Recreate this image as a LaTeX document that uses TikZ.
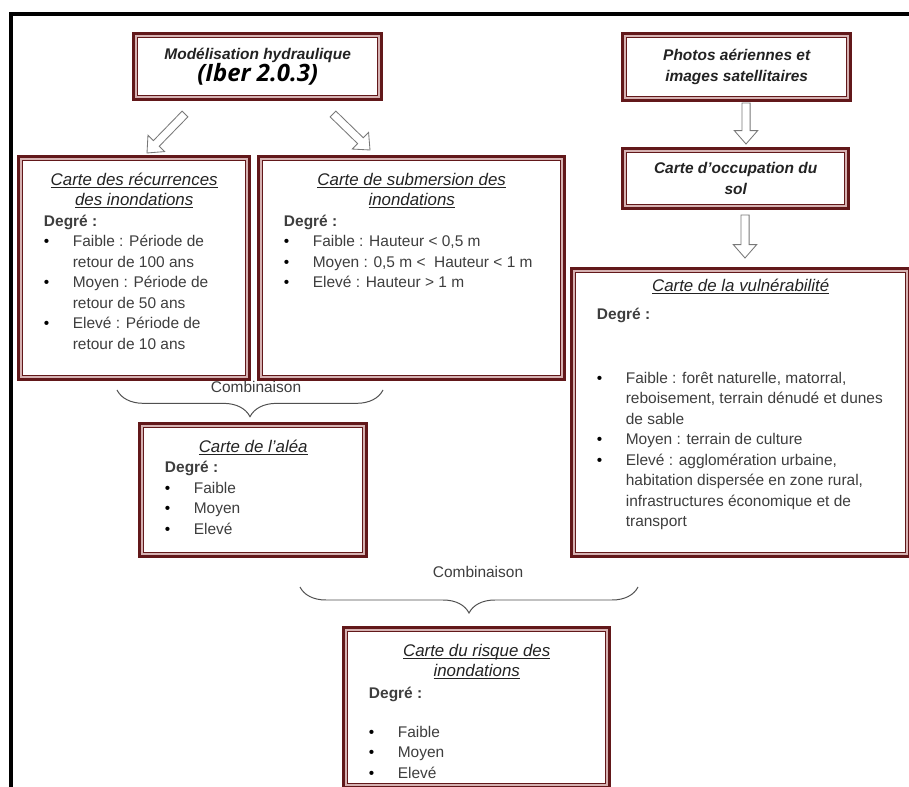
\documentclass[tikz,border=0pt]{standalone}
\usepackage{fontspec}
\setmainfont{Liberation Sans}
\newfontfamily\iberfont{Open Sans}
\usetikzlibrary{calc,decorations.pathreplacing}

\definecolor{weinrot}{RGB}{98,24,26}
\definecolor{rosa}{RGB}{214,178,178}
\definecolor{textgrau}{RGB}{62,62,62}
\definecolor{kopfgrau}{RGB}{35,35,35}
\definecolor{pfeilgrau}{RGB}{120,120,120}
\definecolor{klammergrau}{RGB}{80,80,80}

% 1 Pixel der Vorlage
\newlength\pxl
\setlength\pxl{0.7113pt}

% Unterstreichen
\newcommand{\unterstr}[1]{\setbox0=\hbox{#1}\rlap{\rule[-1.8pt]{\wd0}{0.5pt}}\box0}
% Titel einer Karte
\newcommand{\kopf}[1]{{\itshape\fontsize{12}{14.6}\selectfont\color{kopfgrau}\strut\unterstr{#1}}}
% Aufzaehlungspunkt
\newcommand{\pkt}[1]{\par\hangindent=20.5pt\hangafter=1\noindent\makebox[20.5pt][l]{\color{black}\textbullet}#1\par}
% Inhalt einer Karte (Breite, Hoehe in Pixel)
\newcommand{\karte}[3]{\parbox[t][\dimexpr#2\pxl-20pt\relax][t]{\dimexpr#1\pxl-36pt\relax}{\fontsize{11}{14.6}\selectfont\color{textgrau}\raggedright #3}}

\begin{document}
\begin{tikzpicture}[x=0.7113pt, y=-0.7113pt,
    karte/.style={draw=weinrot, line width=2.4pt, fill=white, inner xsep=18pt, inner ysep=10pt, anchor=north west},
    kasten/.style={draw=weinrot, line width=2.4pt, fill=white, align=center, anchor=north west, inner sep=0pt,
        text=kopfgrau, font=\bfseries\itshape\fontsize{11}{14.6}\selectfont},
    zwischen/.style={draw=rosa, line width=1.4pt},
    innen/.style={draw=weinrot, line width=0.8pt},
    blockpfeil/.style={draw=pfeilgrau, line width=0.6pt, fill=white, line join=miter},
    klammer/.style={decorate, decoration={brace, mirror, amplitude=#1}, draw=klammergrau, line width=0.7pt},
    kombi/.style={text=textgrau, font=\fontsize{11}{13}\selectfont}]
    % Hintergrund
    \fill[white] (0,0) rectangle (909,787);
    \useasboundingbox (0,0) rectangle (909,787);
    % Rahmen
    \draw[line width=2.9pt] (909,14) -- (11,14) -- (11,787);
    % Obere Kaesten
    \node[kasten, minimum width=248*\pxl, minimum height=66*\pxl] (modell) at (132,32)
        {Modélisation hydraulique\\[-1pt]{\iberfont\fontsize{17}{18}\selectfont\color{black}(Iber 2.0.3)}};
    \node[kasten, minimum width=228*\pxl, minimum height=67*\pxl] (photos) at (621,32)
        {Photos aériennes et\\images satellitaires};
    \node[kasten, minimum width=226*\pxl, minimum height=60*\pxl] (occupation) at (621,147)
        {Carte d’occupation du\\sol};
    % Karten
    \node[karte] (recurrence) at (17,155) {\karte{231}{223}{%
        {\centering\kopf{Carte des récurrences}\\\kopf{des inondations}\par}
        \textbf{Degré :}
        \pkt{Faible : Période de\newline retour de 100 ans}
        \pkt{Moyen : Période de\newline retour de 50 ans}
        \pkt{Elevé : Période de\newline retour de 10 ans}}};
    \node[karte] (submersion) at (257,155) {\karte{306}{223}{%
        {\centering\kopf{Carte de submersion des}\\\kopf{inondations}\par}
        \textbf{Degré :}
        \pkt{Faible : Hauteur < 0,5 m}
        \pkt{Moyen : 0,5 m <\ \ Hauteur < 1 m}
        \pkt{Elevé : Hauteur > 1 m}}};
    \node[karte] (alea) at (138,422) {\karte{227}{133}{%
        {\centering\kopf{Carte de l'aléa}\par}
        \textbf{Degré :}
        \pkt{Faible}\pkt{Moyen}\pkt{Elevé}}};
    \node[karte] (vulnerabilite) at (570,267) {\karte{338}{288}{%
        \vspace*{-4pt}{\centering\kopf{Carte de la vulnérabilité}\par}
        \vspace{5pt}\textbf{Degré :}\par
        \vspace{31pt}
        \pkt{Faible : forêt naturelle, matorral,\newline\mbox{reboisement, terrain dénudé et dunes}\newline de sable}
        \pkt{Moyen : terrain de culture}
        \pkt{Elevé : agglomération urbaine,\newline habitation dispersée en zone rural,\newline infrastructures économique et de\newline transport}}};
    \node[karte] (risque) at (342,626) {\karte{266}{160}{%
        {\centering\kopf{Carte du risque des}\\\kopf{inondations}\par}
        \vspace{1pt}\textbf{Degré :}\par
        \vspace{13pt}
        \pkt{Faible}\pkt{Moyen}\pkt{Elevé}}};
    % Doppelte Linie innen
    \foreach \k in {modell,photos,occupation,recurrence,submersion,alea,vulnerabilite,risque}{
        \draw[zwischen] ($(\k.south west)+(3.1pt,3.1pt)$) rectangle ($(\k.north east)-(3.1pt,3.1pt)$);
        \draw[innen] ($(\k.south west)+(4.2pt,4.2pt)$) rectangle ($(\k.north east)-(4.2pt,4.2pt)$);
    }
    % Pfeile
    \coordinate (pfeil1a) at (185,114);
    \coordinate (pfeil1b) at (147,153);
    \coordinate (pfeil2a) at (333,114);
    \coordinate (pfeil2b) at (370,150);
    \coordinate (pfeil3a) at (746,103);
    \coordinate (pfeil3b) at (746,144);
    \coordinate (pfeil4a) at (745,215);
    \coordinate (pfeil4b) at (745,258);
    \foreach \a/\b in {pfeil1a/pfeil1b,pfeil2a/pfeil2b,pfeil3a/pfeil3b,pfeil4a/pfeil4b}{
        \coordinate (kopf) at ($(\b)!9.5pt!(\a)$);
        \draw[blockpfeil] ($(\a)!2.9pt!90:(\b)$) -- ($(kopf)!2.9pt!90:(\b)$) -- ($(kopf)!8.3pt!90:(\b)$)
            -- (\b) -- ($(kopf)!8.3pt!-90:(\b)$) -- ($(kopf)!2.9pt!-90:(\b)$) -- ($(\a)!2.9pt!-90:(\b)$) -- cycle;
    }
    % Klammern
    \coordinate (klammer1a) at (117,390);
    \coordinate (klammer1b) at (383,390);
    \coordinate (klammer2a) at (300,587);
    \coordinate (klammer2b) at (638,587);
    \draw[klammer=19pt] (klammer1a) -- (klammer1b);
    \draw[klammer=18.5pt] (klammer2a) -- (klammer2b);
    \node[kombi] (kombi1) at (256,387) {Combinaison};
    \node[kombi] (kombi2) at (478,572) {Combinaison};
\end{tikzpicture}
\end{document}
